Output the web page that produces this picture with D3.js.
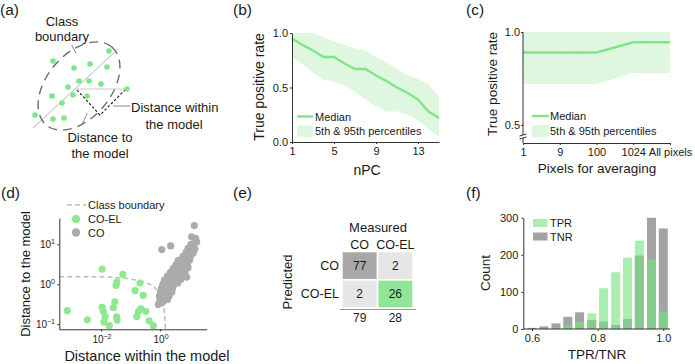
<!DOCTYPE html>
<html>
<head>
<meta charset="utf-8">
<script src="https://cdn.jsdelivr.net/npm/d3@7"></script>
<style>
body { margin: 0; background: #fff; }
svg text { font-family: "Liberation Sans", Arial, sans-serif; fill: #1a1a1a; }
</style>
</head>
<body>
<svg id="fig" width="695" height="364"></svg>
<script>
// ---- (a) schematic, in a 0-100 unit box ----
const aDots = [[23,21],[79,11],[60,24],[44,28],[77,27],[49,41],[59,41],[71,44],[38,47],
               [22,56],[43,55],[57,56],[32,63],[5,75],[23,79],[34,78],[97,49]];
const aModelLine = [[3,88],[88,9]];
const aProjection = [[46,49],[97,49]];
const aDistances = [[47,50],[70,75],[96,49]];

// ---- (b) true positive rate vs nPC ----
const nPC = [1,2,3,4,5,6,7,8,9,10,11,12,13,14,15];
const bMedian = [0.95,0.89,0.84,0.78,0.78,0.72,0.67,0.67,0.61,0.56,0.50,0.45,0.39,0.28,0.22];
const bLow    = [0.78,0.71,0.64,0.57,0.55,0.52,0.46,0.39,0.33,0.28,0.28,0.25,0.20,0.12,0.05];
const bHigh   = [1.00,1.00,1.00,0.96,0.92,0.89,0.86,0.84,0.78,0.73,0.67,0.61,0.58,0.53,0.42];

// ---- (c) true positive rate vs pixels for averaging ----
const pixelCats = ["1","9","100","1024","All pixels"];
const cMedian = [0.89,0.89,0.89,0.945,0.945];
const cLow    = [0.72,0.72,0.72,0.78,0.78];
const cHigh   = [1.0,1.0,1.0,1.0,1.0];

// ---- (d) distances, log10 values [within, to] ----
const coelLog = [[-1.96,0.38],[-1.26,0.25],[-1.46,0.06],[-1.49,-0.03],[-0.68,0.03],[-0.85,-0.16],
  [-0.57,-0.28],[-3.14,-0.66],[-2.46,-0.89],[-1.96,-0.58],[-1.92,-0.68],[-1.86,-0.81],[-1.90,-0.95],
  [-1.72,-1.04],[-1.53,-0.44],[-1.58,-0.59],[-1.47,-0.82],[-1.45,-0.90],[-0.79,-0.81],[-0.73,-0.68],
  [-0.65,-0.62],[-0.48,-0.68],[-0.37,-0.92],[-0.23,-1.04]];
const coLog = [[-0.06,-0.51],[0.05,-0.47],[0.0,-0.40],[0.12,-0.42],[0.25,-0.38],[-0.02,-0.30],
  [0.10,-0.32],[0.20,-0.28],[0.30,-0.30],[0.02,-0.20],[0.15,-0.22],[0.28,-0.18],[0.40,-0.20],
  [0.05,-0.10],[0.18,-0.12],[0.30,-0.08],[0.42,-0.10],[0.10,0.0],[0.22,0.02],[0.35,-0.02],
  [0.48,0.0],[0.60,0.03],[0.15,0.10],[0.30,0.12],[0.42,0.08],[0.55,0.10],[0.70,0.12],
  [0.25,0.20],[0.38,0.22],[0.50,0.18],[0.62,0.20],[0.78,0.22],[0.90,0.18],[0.35,0.30],
  [0.48,0.32],[0.60,0.28],[0.72,0.30],[0.85,0.32],[0.45,0.40],[0.58,0.42],[0.70,0.38],
  [0.82,0.40],[0.95,0.42],[0.55,0.50],[0.68,0.52],[0.80,0.48],[0.92,0.50],[0.62,0.60],
  [0.75,0.62],[0.88,0.58],[1.00,0.60],[0.78,0.70],[0.90,0.72],[1.02,0.68],[0.88,0.80],
  [1.00,0.82],[1.12,0.78],[0.95,0.90],[1.08,0.92],[1.18,0.88],[1.05,1.00],[1.15,1.02],
  [1.24,1.06],[1.07,1.19],[1.20,1.15],[1.16,1.47],[0.36,0.96],[0.06,0.87]];
const boundaryLog = [[-3.41,0.19],[-2.5,0.19],[-1.5,0.17],[-1.0,0.13],[-0.6,0.07],[-0.3,-0.02],
  [-0.1,-0.15],[0.05,-0.35],[0.13,-0.6],[0.17,-0.9],[0.18,-1.13]];

// ---- (e) confusion matrix ----
const classes = ["CO","CO-EL"];
const confusion = [[77,2],[2,26]];
const measuredTotals = [79,28];

// ---- (f) histogram ----
const binCenters = [0.600,0.636,0.673,0.709,0.745,0.782,0.818,0.855,0.891,0.927,0.964,1.000];
const tprCounts = [0,1,4,11,19,42,110,153,192,238,188,48];
const tnrCounts = [3,7,15,33,45,24,20,11,27,198,300,271];

const GREEN = "#7ee688";
const svg = d3.select("#fig");

const defs = svg.append("defs");
const pat = defs.append("pattern").attr("id", "hatch")
    .attr("patternUnits", "userSpaceOnUse").attr("width", 3).attr("height", 3)
    .attr("patternTransform", "rotate(45)");
pat.append("rect").attr("width", 3).attr("height", 3).attr("fill", "#e3f8e3");
pat.append("line").attr("x1", 0).attr("y1", 0).attr("x2", 0).attr("y2", 3)
    .attr("stroke", "#cdf0cd").attr("stroke-width", 1);

function styleAxis(g, size = 11) {
    g.selectAll(".domain, .tick line").attr("stroke", "#333");
    g.selectAll("text").attr("font-size", size).attr("fill", "#1a1a1a")
        .attr("font-family", null);
}

function label(x, y, txt, size, anchor = "start", rot = false) {
    const t = svg.append("text").attr("font-size", size).attr("text-anchor", anchor).text(txt);
    if (rot) t.attr("transform", `translate(${x},${y}) rotate(-90)`);
    else t.attr("x", x).attr("y", y);
    return t;
}

// panel letters
label(0, 15, "(a)", 15.5);
label(233, 15, "(b)", 15.5);
label(466, 15, "(c)", 15.5);
label(1, 198, "(d)", 15.5);
label(233, 198, "(e)", 15.5);
label(466, 198, "(f)", 15.5);

// ================= (a) =================
{
    const xA = d3.scaleLinear().domain([0, 100]).range([30, 130]);
    const yA = d3.scaleLinear().domain([0, 100]).range([40, 140]);
    const g = svg.append("g");
    g.append("line")
        .attr("x1", xA(aModelLine[0][0])).attr("y1", yA(aModelLine[0][1]))
        .attr("x2", xA(aModelLine[1][0])).attr("y2", yA(aModelLine[1][1]))
        .attr("stroke", "#b5b5b5").attr("stroke-width", 1);
    g.append("ellipse")
        .attr("cx", 0).attr("cy", 0).attr("rx", 51).attr("ry", 32)
        .attr("transform", `translate(${xA(49)},${yA(46)}) rotate(-50)`)
        .attr("fill", "none").attr("stroke", "#6b6b6b").attr("stroke-width", 1.4)
        .attr("stroke-dasharray", "9,6");
    g.append("line")
        .attr("x1", xA(aProjection[0][0])).attr("y1", yA(aProjection[0][1]))
        .attr("x2", xA(aProjection[1][0])).attr("y2", yA(aProjection[1][1]))
        .attr("stroke", "#c8c8c8").attr("stroke-width", 1);
    g.append("path").datum(aDistances)
        .attr("d", d3.line().x(d => xA(d[0])).y(d => yA(d[1])))
        .attr("fill", "none").attr("stroke", "#111").attr("stroke-width", 1.1)
        .attr("stroke-dasharray", "2.5,2");
    g.selectAll("circle").data(aDots).join("circle")
        .attr("cx", d => xA(d[0])).attr("cy", d => yA(d[1])).attr("r", 2.8)
        .attr("fill", GREEN);
    // pointers
    const ptr = [[[41.7,5],[46,13.3]], [[83,66],[100,66]], [[51.7,85],[57.3,73.3]]];
    g.selectAll(".ptr").data(ptr).join("line").attr("class", "ptr")
        .attr("x1", d => xA(d[0][0])).attr("y1", d => yA(d[0][1]))
        .attr("x2", d => xA(d[1][0])).attr("y2", d => yA(d[1][1]))
        .attr("stroke", "#888").attr("stroke-width", 1);
    label(62, 26, "Class", 13, "middle");
    label(62, 41, "boundary", 13, "middle");
    label(131, 112, "Distance within", 13);
    label(174, 129, "the model", 13, "middle");
    label(100, 142, "Distance to", 13, "middle");
    label(100, 158, "the model", 13, "middle");
}

// ================= (b) =================
{
    const xB = d3.scaleLinear().domain([1, 15]).range([292, 439]);
    const yB = d3.scaleLinear().domain([0, 1]).range([142, 33]);
    const rows = nPC.map((n, i) => ({ n, m: bMedian[i], lo: bLow[i], hi: bHigh[i] }));
    const g = svg.append("g");
    g.append("path").datum(rows)
        .attr("d", d3.area().x(d => xB(d.n)).y0(d => yB(d.lo)).y1(d => yB(d.hi)))
        .attr("fill", "url(#hatch)");
    g.append("path").datum(rows)
        .attr("d", d3.line().x(d => xB(d.n)).y(d => yB(d.m)))
        .attr("fill", "none").attr("stroke", GREEN).attr("stroke-width", 2.4);
    g.append("g").attr("transform", "translate(0,142)")
        .call(d3.axisBottom(xB).tickValues([1, 5, 9, 13]).tickSize(2).tickSizeOuter(0).tickPadding(3))
        .call(styleAxis);
    g.append("g").attr("transform", "translate(292,0)")
        .call(d3.axisLeft(yB).tickValues([0, 0.5, 1]).tickFormat(d3.format(".1f"))
            .tickSize(2).tickSizeOuter(0).tickPadding(2))
        .call(styleAxis);
    // legend
    g.append("line").attr("x1", 297).attr("x2", 313).attr("y1", 116.5).attr("y2", 116.5)
        .attr("stroke", GREEN).attr("stroke-width", 2.4);
    g.append("rect").attr("x", 297).attr("y", 125.5).attr("width", 16).attr("height", 11.5)
        .attr("fill", "url(#hatch)");
    label(315, 120.5, "Median", 11);
    label(315, 135, "5th & 95th percentiles", 11);
    label(264, 87, "True positive rate", 14, "middle", true);
    label(367, 175, "nPC", 14, "middle");
}

// ================= (c) =================
{
    const xC = d3.scalePoint().domain(pixelCats).range([523, 670]);
    const yC = d3.scaleLinear().domain([0.5, 1]).range([125, 32]);
    const rows = pixelCats.map((c, i) => ({ c, m: cMedian[i], lo: cLow[i], hi: cHigh[i] }));
    const g = svg.append("g");
    g.append("path").datum(rows)
        .attr("d", d3.area().x(d => xC(d.c)).y0(d => yC(d.lo)).y1(d => yC(d.hi)))
        .attr("fill", "url(#hatch)");
    g.append("path").datum(rows)
        .attr("d", d3.line().x(d => xC(d.c)).y(d => yC(d.m)))
        .attr("fill", "none").attr("stroke", GREEN).attr("stroke-width", 2.4);
    g.append("g").attr("transform", "translate(0,143)")
        .call(d3.axisBottom(xC).tickSize(2).tickSizeOuter(0).tickPadding(3))
        .call(styleAxis);
    const ya = g.append("g").attr("transform", "translate(523,0)")
        .call(d3.axisLeft(yC).tickValues([0.5, 1]).tickFormat(d3.format(".1f"))
            .tickSize(2).tickSizeOuter(0).tickPadding(1))
        .call(styleAxis);
    ya.select(".domain").remove();
    g.append("line").attr("x1", 523).attr("x2", 523).attr("y1", yC(1)).attr("y2", 143)
        .attr("stroke", "#333");
    // axis break
    g.append("rect").attr("x", 519).attr("y", 135).attr("width", 8).attr("height", 3).attr("fill", "#fff");
    g.selectAll(".brk").data([134.5, 137.5]).join("line").attr("class", "brk")
        .attr("x1", 519.5).attr("x2", 526.5).attr("y1", d => d + 1.5).attr("y2", d => d - 0.5)
        .attr("stroke", "#333").attr("stroke-width", 1);
    // legend
    g.append("line").attr("x1", 532).attr("x2", 549).attr("y1", 116).attr("y2", 116)
        .attr("stroke", GREEN).attr("stroke-width", 2.4);
    g.append("rect").attr("x", 532).attr("y", 125).attr("width", 17).attr("height", 12)
        .attr("fill", "url(#hatch)");
    label(550, 120, "Median", 11);
    label(550, 135, "5th & 95th percentiles", 11);
    label(497, 84, "True positive rate", 13.5, "middle", true);
    label(597, 173, "Pixels for averaging", 13.5, "middle");
}

// ================= (d) =================
{
    const xD = d3.scaleLog().domain([10 ** -3.41, 10 ** 1.58]).range([59.3, 206.7]);
    const yD = d3.scaleLog().domain([10 ** -1.13, 10 ** 1.66]).range([329.3, 218]);
    const toVal = d => [10 ** d[0], 10 ** d[1]];
    const coel = coelLog.map(toVal), co = coLog.map(toVal), bound = boundaryLog.map(toVal);
    const g = svg.append("g");
    g.append("path").datum(bound)
        .attr("d", d3.line().curve(d3.curveMonotoneY).x(d => xD(d[0])).y(d => yD(d[1])))
        .attr("fill", "none").attr("stroke", "#bdbdbd").attr("stroke-width", 1.5)
        .attr("stroke-dasharray", "5,3");
    g.selectAll(".co").data(co).join("circle").attr("class", "co")
        .attr("cx", d => xD(d[0])).attr("cy", d => yD(d[1])).attr("r", 3.6)
        .attr("fill", "#ababab");
    g.selectAll(".coel").data(coel).join("circle").attr("class", "coel")
        .attr("cx", d => xD(d[0])).attr("cy", d => yD(d[1])).attr("r", 3.6)
        .attr("fill", "#8ee88f");
    g.append("g").attr("transform", "translate(0,329.3)")
        .call(d3.axisBottom(xD).tickValues([1e-2, 1]).tickSize(2).tickSizeOuter(0).tickFormat(""))
        .call(styleAxis);
    g.append("g").attr("transform", "translate(59.3,0)")
        .call(d3.axisLeft(yD).tickValues([0.1, 1, 10]).tickSize(2).tickSizeOuter(0).tickFormat(""))
        .call(styleAxis);
    const sup = (sel, exp) => {
        sel.append("tspan").text("10");
        sel.append("tspan").attr("dy", -4).attr("font-size", 7).text(exp);
    };
    [[1e-2, "\u22122"], [1, "0"]].forEach(([v, e]) => {
        const t = g.append("text").attr("x", xD(v) + 1).attr("y", 343)
            .attr("font-size", 10).attr("text-anchor", "middle");
        sup(t, e);
    });
    [[0.1, "\u22121"], [1, "0"], [10, "1"]].forEach(([v, e]) => {
        const t = g.append("text").attr("x", 55).attr("y", yD(v) + 4)
            .attr("font-size", 10).attr("text-anchor", "end");
        sup(t, e);
    });
    // legend
    g.append("line").attr("x1", 67).attr("x2", 86).attr("y1", 205).attr("y2", 205)
        .attr("stroke", "#bdbdbd").attr("stroke-width", 1.5).attr("stroke-dasharray", "5,3");
    g.append("circle").attr("cx", 76).attr("cy", 219).attr("r", 4.2).attr("fill", "#8ee88f");
    g.append("circle").attr("cx", 76).attr("cy", 232.5).attr("r", 4.2).attr("fill", "#ababab");
    label(88, 209, "Class boundary", 11);
    label(88, 223, "CO-EL", 11);
    label(88, 236.5, "CO", 11);
    label(30, 274, "Distance to the model", 13, "middle", true);
    label(147, 361, "Distance within the model", 14.5, "middle");
}

// ================= (e) =================
{
    const xE = d3.scaleBand().domain(classes).range([342.7, 412.3]).paddingInner(0.05);
    const yE = d3.scaleBand().domain(classes).range([252.3, 307.3]).paddingInner(0.06);
    const cellFill = (r, c) => r === c ? (r === 0 ? "#a8a8a8" : "#90e696") : "#e6e6e6";
    const cells = [];
    confusion.forEach((row, r) => row.forEach((v, c) => cells.push({ r, c, v })));
    const g = svg.append("g");
    g.selectAll("rect").data(cells).join("rect")
        .attr("x", d => xE(classes[d.c])).attr("y", d => yE(classes[d.r]))
        .attr("width", xE.bandwidth()).attr("height", yE.bandwidth())
        .attr("fill", d => cellFill(d.r, d.c));
    g.selectAll(".val").data(cells).join("text").attr("class", "val")
        .attr("x", d => xE(classes[d.c]) + xE.bandwidth() / 2)
        .attr("y", d => yE(classes[d.r]) + yE.bandwidth() / 2 + 4.5)
        .attr("text-anchor", "middle").attr("font-size", 12).text(d => d.v);
    g.selectAll(".colh").data(classes).join("text").attr("class", "colh")
        .attr("x", d => xE(d) + xE.bandwidth() / 2).attr("y", 249)
        .attr("text-anchor", "middle").attr("font-size", 12.5).text(d => d);
    g.selectAll(".rowh").data(classes).join("text").attr("class", "rowh")
        .attr("x", 339).attr("y", d => yE(d) + yE.bandwidth() / 2 + 4.5)
        .attr("text-anchor", "end").attr("font-size", 12.5).text(d => d);
    g.append("line").attr("x1", 340).attr("x2", 416).attr("y1", 309.5).attr("y2", 309.5)
        .attr("stroke", "#999").attr("stroke-width", 1);
    g.selectAll(".tot").data(measuredTotals).join("text").attr("class", "tot")
        .attr("x", (d, i) => xE(classes[i]) + xE.bandwidth() / 2).attr("y", 322)
        .attr("text-anchor", "middle").attr("font-size", 12).text(d => d);
    label(378, 232, "Measured", 13, "middle");
    label(292, 282, "Predicted", 13, "middle", true);
}

// ================= (f) =================
{
    const xF = d3.scaleLinear().domain([0.6, 1.0]).range([532, 663.3]);
    const yF = d3.scaleLinear().domain([0, 300]).range([329, 217.7]);
    const bw = 9;
    const g = svg.append("g");
    g.selectAll(".tnr").data(tnrCounts).join("rect").attr("class", "tnr")
        .attr("x", (d, i) => xF(binCenters[i]) - bw / 2).attr("width", bw)
        .attr("y", d => yF(d)).attr("height", d => yF(0) - yF(d))
        .attr("fill", "#a3a3a3");
    g.selectAll(".tpr").data(tprCounts).join("rect").attr("class", "tpr")
        .attr("x", (d, i) => xF(binCenters[i]) - bw / 2).attr("width", bw)
        .attr("y", d => yF(d)).attr("height", d => yF(0) - yF(d))
        .attr("fill", "rgb(114,227,127)").attr("fill-opacity", 0.62);
    const xa = g.append("g").attr("transform", "translate(0,329)")
        .call(d3.axisBottom(xF).tickValues([0.6, 0.8, 1.0]).tickFormat(d3.format(".1f"))
            .tickSize(2).tickPadding(3))
        .call(styleAxis);
    xa.select(".domain").remove();
    g.append("line").attr("x1", 523.3).attr("x2", 670).attr("y1", 329).attr("y2", 329)
        .attr("stroke", "#333");
    g.append("g").attr("transform", "translate(523.3,0)")
        .call(d3.axisLeft(yF).tickValues([0, 100, 200, 300]).tickSize(2).tickSizeOuter(0).tickPadding(3))
        .call(styleAxis);
    // legend
    g.append("rect").attr("x", 533).attr("y", 219).attr("width", 14.5).attr("height", 8)
        .attr("fill", "rgb(114,227,127)").attr("fill-opacity", 0.62);
    g.append("rect").attr("x", 533).attr("y", 232.5).attr("width", 14.5).attr("height", 8)
        .attr("fill", "#a3a3a3");
    label(550, 227, "TPR", 11);
    label(550, 240.5, "TNR", 11);
    label(490, 273, "Count", 13.5, "middle", true);
    label(597, 359, "TPR/TNR", 13.5, "middle");
}
</script>
</body>
</html>
